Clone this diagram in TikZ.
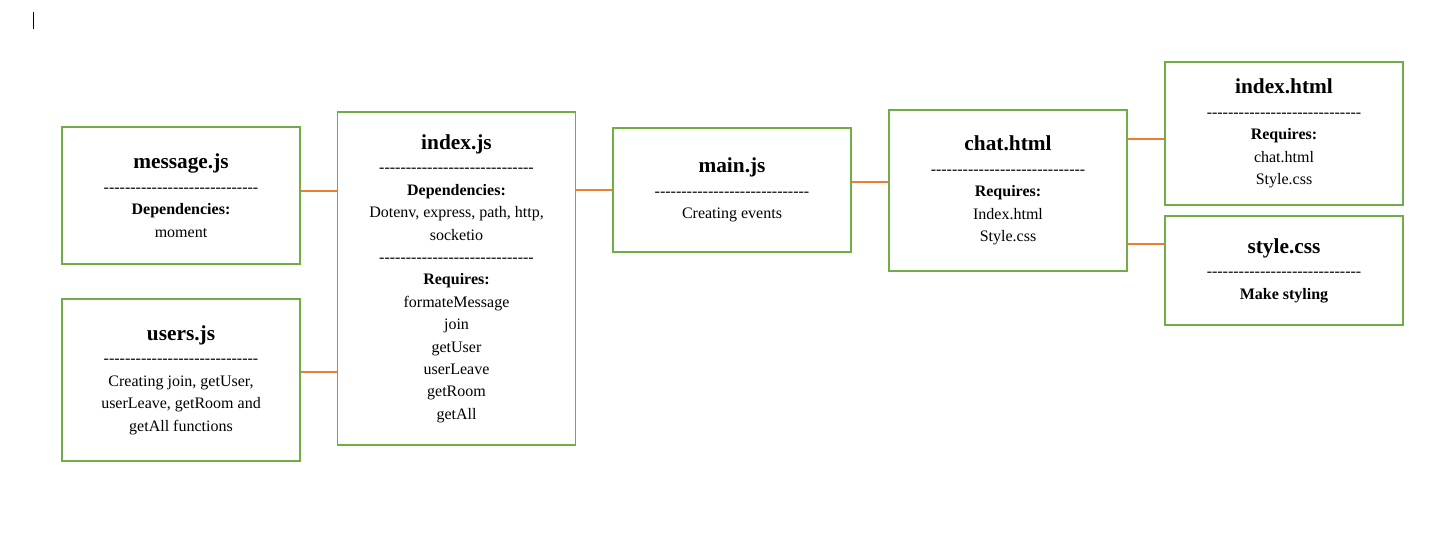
\documentclass[tikz,border=0pt]{standalone}
\usepackage{fontspec}
\setmainfont{Liberation Serif}
\definecolor{boxgreen}{HTML}{70AD47}
\definecolor{linkorange}{HTML}{ED7D31}
\newcommand{\sepline}{\foreach \k in {1,...,29}{-\kern0pt}}
\newcommand{\boxtitle}[1]{{\fontsize{16}{19}\selectfont\bfseries #1}}

\begin{document}
\begin{tikzpicture}[x=0.75pt,y=-0.75pt,
    filebox/.style={draw=boxgreen,line width=1pt,minimum width=178.5pt,
      align=center,inner sep=0pt,font=\fontsize{12}{16.8}\selectfont},
    link/.style={draw=linkorange,line width=1pt}]
  \useasboundingbox (0,0) rectangle (1432,559);
  \draw[line width=0.75pt] (33,12) -- (33,29);
  % left column
  \node[filebox,minimum height=102.75pt] (msg) at (181,195.5)
    {\boxtitle{message.js}\\[1pt] \sepline\\ \textbf{Dependencies:}\\ moment};
  \node[filebox,minimum height=121.5pt] (users) at (181,380)
    {\boxtitle{users.js}\\[1pt] \sepline\\ Creating join, getUser,\\ userLeave, getRoom and\\ getAll functions};
  % server
  \node[filebox,minimum height=249.75pt] (idx) at (456.5,278.5)
    {\boxtitle{index.js}\\[1pt] \sepline\\ \textbf{Dependencies:}\\ Dotenv, express, path, http,\\ socketio\\ \sepline\\
     \textbf{Requires:}\\ formateMessage\\ join\\ getUser\\ userLeave\\ getRoom\\ getAll};
  % client
  \node[filebox,minimum height=93pt] (main) at (732,190)
    {\boxtitle{main.js}\\[1pt] \sepline\\ Creating events};
  \node[filebox,minimum height=120.75pt] (chat) at (1008,190.5)
    {\boxtitle{chat.html}\\[1pt] \sepline\\ \textbf{Requires:}\\ Index.html\\ Style.css};
  \node[filebox,minimum height=107.25pt] (ihtml) at (1284,133.5)
    {\boxtitle{index.html}\\[1pt] \sepline\\ \textbf{Requires:}\\ chat.html\\ Style.css};
  \node[filebox,minimum height=81.75pt] (css) at (1284,270.5)
    {\boxtitle{style.css}\\[1pt] \sepline\\ \textbf{Make styling}};
  % links
  \draw[link] ([yshift=3.4pt]msg.east) coordinate (l1) -- (l1 -| idx.west);
  \draw[link] ([yshift=6pt]users.east) coordinate (l2) -- (l2 -| idx.west);
  \draw[link] (main.west -| idx.east) -- (main.west);
  \draw[link] ([yshift=6pt]main.east) coordinate (l3) -- (l3 -| chat.west);
  \draw[link] ([yshift=-4.1pt]ihtml.west) coordinate (l4) -- (l4 -| chat.east);
  \draw[link] ([yshift=19.9pt]css.west) coordinate (l5) -- (l5 -| chat.east);
\end{tikzpicture}
\end{document}
